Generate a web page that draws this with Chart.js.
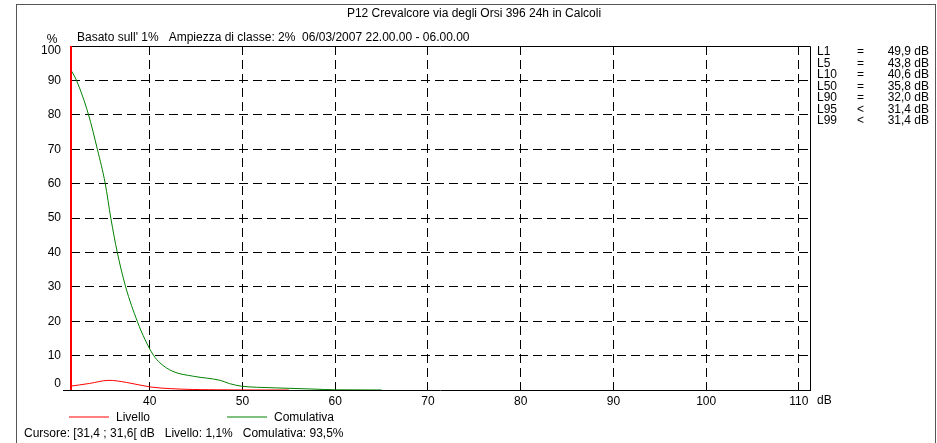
<!DOCTYPE html>
<html><head><meta charset="utf-8">
<script src="https://cdn.jsdelivr.net/npm/chart.js@4.4.1/dist/chart.umd.min.js"></script>
<style>html,body{margin:0;padding:0;background:#fff;}#wrap{width:937px;height:443px;position:relative;}</style>
</head><body><div id="wrap"><canvas id="c" width="937" height="443"></canvas></div>
<script>
const titleText = "P12 Crevalcore via degli Orsi 396 24h in Calcoli";
const subtitleText = "Basato sull' 1%   Ampiezza di classe: 2%  06/03/2007 22.00.00 - 06.00.00";
const cursorText = "Cursore: [31,4 ; 31,6[ dB   Livello: 1,1%   Comulativa: 93,5%";
const xUnit = "dB";
const yUnit = "%";
const xTicks = [40, 50, 60, 70, 80, 90, 100, 110];
const yTicks = [0, 10, 20, 30, 40, 50, 60, 70, 80, 90, 100];
const seriesNames = ["Livello", "Comulativa"];
const livelloDb  = [31.4, 33.5, 35.5, 37.5, 40.0, 42.2, 44.7, 48.0, 50.0, 55.0];
const livelloPct = [1.1,  1.9,  2.8,  2.2,  0.9,  0.4,  0.15, 0.05, 0.02, 0.0];
const cumulDb  = [31.4, 32.1, 33.4, 34.35, 35.2, 35.8, 36.5, 37.4, 38.65, 39.5, 40.4, 41.1, 42.5, 44.7, 47.6, 48.6, 49.9, 51.5, 53.7, 57.3, 60.1, 65.0];
const cumulPct = [93.5, 90,   80,   70,    60,   50,   40,   30,   20,    14.6, 10.1, 7.9,  5.4,  4.0,  2.8,  1.86, 1.1,  0.8,  0.6,  0.3,  0.05, 0.0];
const cursorDb = 31.4;
const statNames  = ["L1", "L5", "L10", "L50", "L90", "L95", "L99"];
const statOps    = ["=", "=", "=", "=", "=", "<", "<"];
const statValues = ["49,9 dB", "43,8 dB", "40,6 dB", "35,8 dB", "32,0 dB", "31,4 dB", "31,4 dB"];

const FONT = '12px "Liberation Sans", Arial, sans-serif';

const overlay = {
  id: 'overlay',
  afterDatasetsDraw(chart) {
    const ctx = chart.ctx, a = chart.chartArea;
    const xs = chart.scales.x, ys = chart.scales.y;
    ctx.save();
    ctx.strokeStyle = '#000'; ctx.lineWidth = 1;
    ctx.beginPath();
    ctx.moveTo(Math.round(a.left), Math.round(a.top) + 0.5);
    ctx.lineTo(Math.round(a.right) + 0.5, Math.round(a.top) + 0.5);
    ctx.lineTo(Math.round(a.right) + 0.5, Math.round(a.bottom));
    ctx.moveTo(Math.round(a.left) - 7, Math.round(a.bottom) + 0.5);
    ctx.lineTo(Math.round(a.left), Math.round(a.bottom) + 0.5);
    ctx.stroke();
    const cx = xs.getPixelForValue(cursorDb);
    ctx.strokeStyle = '#ff0000'; ctx.lineWidth = 2;
    ctx.beginPath(); ctx.moveTo(cx + 1, a.top); ctx.lineTo(cx + 1, a.bottom); ctx.stroke();
    ctx.fillStyle = '#000'; ctx.font = FONT;
    ctx.textAlign = 'right'; ctx.textBaseline = 'middle';
    yTicks.forEach(v => {
      let y = ys.getPixelForValue(v);
      y = Math.min(Math.max(y, a.top + 5), a.bottom - 6);
      ctx.fillText(String(v), 61, y);
    });
    ctx.textAlign = 'center';
    ctx.fillText(yUnit, 52, 40);
    ctx.textAlign = 'left';
    ctx.fillText(xUnit, a.right + 7, 401);
    ctx.textAlign = 'center';
    ctx.fillText(titleText, 474, 14);
    ctx.textAlign = 'left';
    ctx.fillText(subtitleText, 77, 38);
    statNames.forEach((n, i) => {
      const y = 52 + i * 11.5;
      ctx.textAlign = 'left';
      ctx.fillText(n, 817, y);
      ctx.fillText(statOps[i], 857, y);
      ctx.textAlign = 'right';
      ctx.fillText(statValues[i], 929, y);
    });
    const legCols = ['#ff0000', '#008000'];
    const legX = [69, 227];
    seriesNames.forEach((n, i) => {
      ctx.strokeStyle = legCols[i]; ctx.lineWidth = 1;
      ctx.beginPath(); ctx.moveTo(legX[i], 417); ctx.lineTo(legX[i] + 40, 417); ctx.stroke();
      ctx.textAlign = 'left'; ctx.fillStyle = '#000';
      ctx.fillText(n, legX[i] + 47, 418);
    });
    ctx.fillText(cursorText, 24, 434);
    ctx.strokeStyle = '#555'; ctx.lineWidth = 1;
    ctx.strokeRect(16.5, 4.5, 919, 500);
    ctx.restore();
  }
};

new Chart(document.getElementById('c'), {
  type: 'line',
  data: {
    datasets: [
      { label: seriesNames[0], data: livelloDb.map((x, i) => ({x, y: livelloPct[i]})),
        borderColor: '#ff0000', borderWidth: 1, pointRadius: 0, tension: 0.35, fill: false },
      { label: seriesNames[1], data: cumulDb.map((x, i) => ({x, y: cumulPct[i]})),
        borderColor: '#008000', borderWidth: 1, pointRadius: 0, cubicInterpolationMode: 'monotone', fill: false }
    ]
  },
  options: {
    responsive: false, animation: false, devicePixelRatio: 1,
    layout: { padding: { left: 0, right: 127, top: 46, bottom: 0 } },
    plugins: { legend: { display: false }, tooltip: { enabled: false }, title: { display: false } },
    scales: {
      x: {
        type: 'linear', min: 31.4, max: 111.2,
        afterBuildTicks: s => { s.ticks = xTicks.map(v => ({ value: v })); },
        afterFit: s => { s.height = 53; },
        grid: { color: '#000', lineWidth: 1, drawTicks: false },
        border: { display: true, color: '#000', width: 1, dash: [9, 5] },
        ticks: { font: { family: '"Liberation Sans", Arial, sans-serif', size: 12 }, color: '#000', padding: 4, maxRotation: 0, autoSkip: false }
      },
      y: {
        type: 'linear', min: 0, max: 100,
        afterBuildTicks: s => { s.ticks = yTicks.filter(v => v > 0 && v < 100).map(v => ({ value: v })); },
        afterFit: s => { s.width = 70; },
        grid: { color: '#000', lineWidth: 1, drawTicks: false },
        border: { display: true, color: '#000', width: 1, dash: [9, 5] },
        ticks: { display: false }
      }
    }
  },
  plugins: [overlay]
});
</script>
</body></html>
